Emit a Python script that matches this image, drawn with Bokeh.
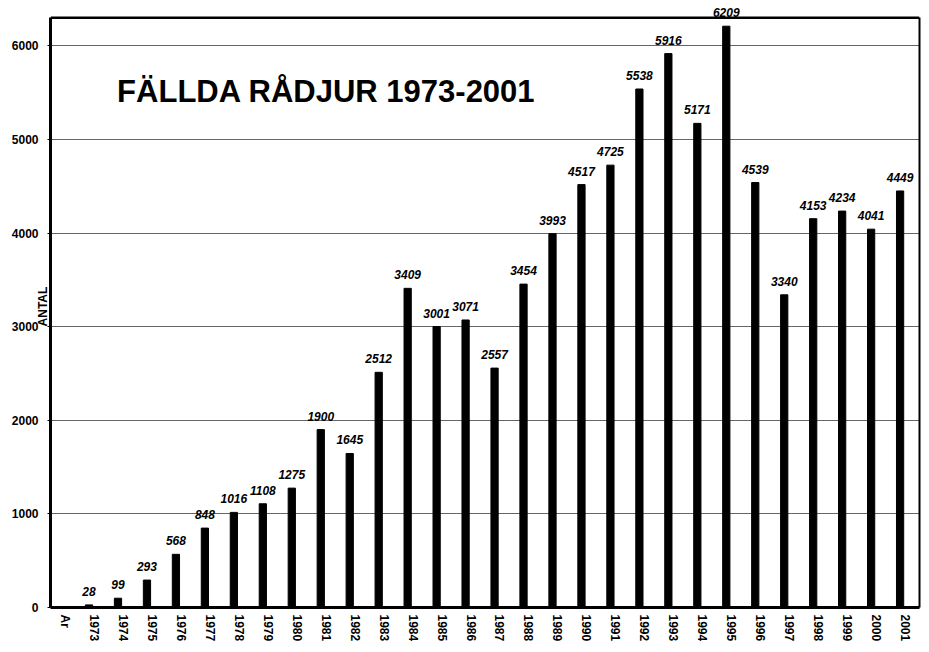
import math
from bokeh.plotting import figure
from bokeh.models import (ColumnDataSource, LabelSet, Label, FactorRange, Span,
                          LinearAxis, FixedTicker)
from bokeh.transform import dodge
from bokeh.core.properties import value
from bokeh.embed import file_html
from bokeh.resources import INLINE

# ---- data ----
categories = ["Ar"] + [str(y) for y in range(1973, 2002)]
years = [str(y) for y in range(1973, 2002)]
values = [28, 99, 293, 568, 848, 1016, 1108, 1275, 1900, 1645,
          2512, 3409, 3001, 3071, 2557, 3454, 3993, 4517, 4725, 5538,
          5916, 5171, 6209, 4539, 3340, 4153, 4234, 4041, 4449]
y_ticks = [0, 1000, 2000, 3000, 4000, 5000, 6000]
y_top = 6300          # top of the boxed plot area
title_text = "FÄLLDA RÅDJUR 1973-2001"
y_label = "ANTAL"

src = ColumnDataSource(dict(year=years, value=values, label=[str(v) for v in values]))

p = figure(x_range=FactorRange(*categories), y_range=(0, 6430),
           width=921, height=644, output_backend="svg", toolbar_location=None,
           min_border_left=50, min_border_right=2, min_border_top=5, min_border_bottom=33)
p.background_fill_color = "white"
p.border_fill_color = "white"
p.outline_line_color = None

p.vbar(x=dodge("year", -0.17, range=p.x_range), top="value", width=0.25,
       source=src, fill_color="black", line_color="black")

labels = LabelSet(x=dodge("year", -0.17, range=p.x_range), y="value", text="label",
                  source=src, y_offset=9, text_align="center", text_baseline="alphabetic",
                  text_font=value("Liberation Sans"), text_font_size=value("12px"),
                  text_font_style="bold italic", text_color="black")
p.add_layout(labels)

p.add_layout(Label(x=2.3, y=5510, text=title_text, text_font="Liberation Sans",
                   text_font_size="31px", text_font_style="bold", text_color="black",
                   text_align="left", text_baseline="alphabetic"))

p.xgrid.grid_line_color = None
p.ygrid.grid_line_color = "#666666"
p.ygrid.grid_line_width = 1

ya = p.left[0]
ya.ticker = y_ticks
ya.bounds = (0, y_top)
ya.axis_line_width = 3
ya.axis_line_color = "black"
ya.major_tick_in = 0
ya.major_tick_out = 3
ya.minor_tick_line_color = None
ya.major_label_text_font = "Liberation Sans"
ya.major_label_text_font_size = "12px"
ya.major_label_text_font_style = "bold"
ya.major_label_text_color = "black"
ya.major_label_standoff = 9
ya.axis_label = y_label
ya.axis_label_text_font = "Liberation Sans"
ya.axis_label_text_font_size = "12px"
ya.axis_label_text_font_style = "bold"
ya.axis_label_text_color = "black"
ya.axis_label_standoff = -41

xa = p.below[0]
xa.axis_line_width = 3
xa.axis_line_color = "black"
xa.major_tick_in = 0
xa.major_tick_out = 0
xa.major_label_orientation = "vertical"
xa.major_label_text_font = "Liberation Sans"
xa.major_label_text_font_size = "12px"
xa.major_label_text_font_style = "bold"
xa.major_label_text_color = "black"
xa.major_label_standoff = 7

# box: top border line and right border axis
p.add_layout(Span(location=y_top, dimension="width", line_color="black", line_width=2.5))
right_axis = LinearAxis(bounds=(0, y_top), ticker=FixedTicker(ticks=[]),
                        axis_line_width=2, axis_line_color="black",
                        major_tick_in=0, major_tick_out=0,
                        minor_tick_in=0, minor_tick_out=0, minor_tick_line_color=None,
                        major_label_standoff=0, major_label_text_font_size="0px")
p.add_layout(right_axis, "right")

open("out.html", "w").write(file_html(p, INLINE))
